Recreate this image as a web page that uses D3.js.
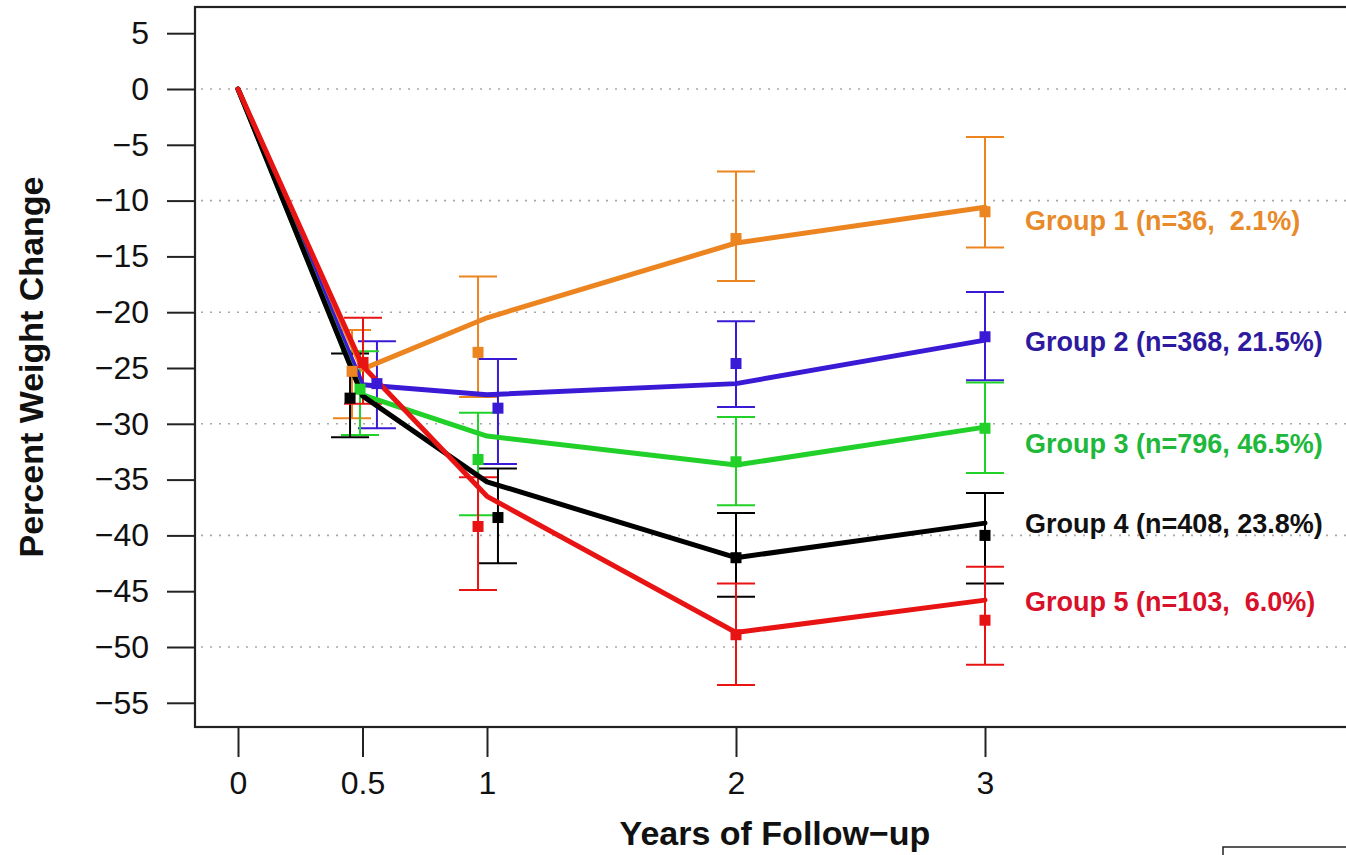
<!DOCTYPE html>
<html><head><meta charset="utf-8">
<script src="https://cdn.jsdelivr.net/npm/d3@7"></script>
<style>
html,body{margin:0;padding:0;background:#fff;}
svg{display:block;font-family:"Liberation Sans",Arial,sans-serif;}
</style></head>
<body>
<svg id="chart" width="1346" height="855"></svg>
<script>
// ---- data ----
const groupLabels = ["Group 1 (n=36,  2.1%)","Group 2 (n=368, 21.5%)","Group 3 (n=796, 46.5%)","Group 4 (n=408, 23.8%)","Group 5 (n=103,  6.0%)"];
const groupColors = ["#ec8420","#3a1ad4","#22d02a","#000000","#e81414"];
const labelColors = ["#e88a2a","#2e1a9e","#20b83a","#111111","#d8102a"];
const labelY = [-11.8, -22.7, -31.8, -39.0, -46.0];

const fitTimes = [0, 0.5, 1, 2, 3];
const fit1 = [0, -25.1, -20.5, -13.8, -10.6];
const fit2 = [0, -26.5, -27.4, -26.4, -22.5];
const fit3 = [0, -27.4, -31.1, -33.7, -30.3];
const fit4 = [0, -27.5, -35.2, -42.0, -38.9];
const fit5 = [0, -24.8, -36.5, -48.7, -45.8];

const obsT1 = [0.458, 0.964, 2, 3];
const obsT2 = [0.558, 1.044, 2, 3];
const obsT3 = [0.490, 0.964, 2, 3];
const obsT4 = [0.450, 1.044, 2, 3];
const obsT5 = [0.502, 0.964, 2, 3];

const mean1 = [-25.3, -23.6, -13.4, -11.0];
const lo1   = [-29.5, -27.6, -17.2, -14.2];
const hi1   = [-21.6, -16.8,  -7.4,  -4.3];
const mean2 = [-26.4, -28.6, -24.6, -22.2];
const lo2   = [-30.4, -33.6, -28.5, -26.1];
const hi2   = [-22.6, -24.2, -20.8, -18.2];
const mean3 = [-26.9, -33.2, -33.4, -30.4];
const lo3   = [-31.0, -38.2, -37.3, -34.4];
const hi3   = [-23.5, -29.0, -29.4, -26.3];
const mean4 = [-27.7, -38.4, -42.0, -40.0];
const lo4   = [-31.2, -42.5, -45.5, -44.3];
const hi4   = [-23.7, -34.0, -38.0, -36.2];
const mean5 = [-24.5, -39.2, -48.9, -47.6];
const lo5   = [-28.2, -44.9, -53.4, -51.6];
const hi5   = [-20.5, -34.8, -44.3, -42.8];

const xTicks = [0, 0.5, 1, 2, 3];
const xTickLabels = ["0","0.5","1","2","3"];
const yTicks = [5,0,-5,-10,-15,-20,-25,-30,-35,-40,-45,-50,-55];
const gridVals = [0,-10,-20,-30,-40,-50];

const fits = [fit1,fit2,fit3,fit4,fit5];
const obsTs = [obsT1,obsT2,obsT3,obsT4,obsT5];
const means = [mean1,mean2,mean3,mean4,mean5];
const los = [lo1,lo2,lo3,lo4,lo5];
const his = [hi1,hi2,hi3,hi4,hi5];

// ---- layout ----
const svg = d3.select("#chart");
const box = {left:195, top:7, right:1355, bottom:727};
const x = d3.scaleLinear().domain([0,3]).range([238, 985]);
const y = d3.scaleLinear().domain([-55,5]).range([702.8, 33.2]);
const fmt = v => (v < 0 ? "\u2212" + Math.abs(v) : String(v));

// grid
svg.append("g").selectAll("line").data(gridVals).join("line")
  .attr("x1", box.left + 6).attr("x2", box.right)
  .attr("y1", d => y(d)).attr("y2", d => y(d))
  .attr("stroke", "#a8a8a8").attr("stroke-width", 1.6)
  .attr("stroke-dasharray", "2 7");

// y axis
const yAxis = d3.axisLeft(y).tickValues(yTicks).tickFormat(fmt).tickSize(28).tickPadding(18);
const gy = svg.append("g").attr("transform", `translate(${box.left},0)`).call(yAxis);
gy.select(".domain").remove();
gy.selectAll(".tick line").attr("stroke", "#222").attr("stroke-width", 2);
gy.selectAll(".tick text").attr("font-size", 32).attr("fill", "#111")
  .attr("font-family", "Liberation Sans, Arial, sans-serif");

// x axis
const xAxis = d3.axisBottom(x).tickValues(xTicks).tickFormat((d,i) => xTickLabels[i]).tickSize(30).tickPadding(14);
const gx = svg.append("g").attr("transform", `translate(0,${box.bottom})`).call(xAxis);
gx.select(".domain").remove();
gx.selectAll(".tick line").attr("stroke", "#222").attr("stroke-width", 2);
gx.selectAll(".tick text").attr("font-size", 32).attr("fill", "#111")
  .attr("font-family", "Liberation Sans, Arial, sans-serif");

// box
svg.append("rect").attr("x", box.left).attr("y", box.top)
  .attr("width", box.right - box.left).attr("height", box.bottom - box.top)
  .attr("fill", "none").attr("stroke", "#222").attr("stroke-width", 2.2);

// titles
svg.append("text").attr("x", (box.left + box.right)/2).attr("y", 845)
  .attr("text-anchor", "middle").attr("font-size", 34).attr("font-weight", "bold")
  .attr("fill", "#111").text("Years of Follow\u2212up");
svg.append("text").attr("transform", `translate(43,${(box.top + box.bottom)/2}) rotate(-90)`)
  .attr("text-anchor", "middle").attr("font-size", 34).attr("font-weight", "bold")
  .attr("fill", "#111").text("Percent Weight Change");

// error bars
const cap = 19;
const eg = svg.append("g");
fits.forEach((f, g) => {
  const rows = obsTs[g].map((t, i) => ({t, m: means[g][i], lo: los[g][i], hi: his[g][i]}));
  const gg = eg.append("g").attr("stroke", groupColors[g]).attr("stroke-width", 2);
  gg.selectAll(".v").data(rows).join("line").attr("class","v")
    .attr("x1", d => x(d.t)).attr("x2", d => x(d.t))
    .attr("y1", d => y(d.lo)).attr("y2", d => y(d.hi));
  gg.selectAll(".ct").data(rows).join("line").attr("class","ct")
    .attr("x1", d => x(d.t) - cap).attr("x2", d => x(d.t) + cap)
    .attr("y1", d => y(d.hi)).attr("y2", d => y(d.hi));
  gg.selectAll(".cb").data(rows).join("line").attr("class","cb")
    .attr("x1", d => x(d.t) - cap).attr("x2", d => x(d.t) + cap)
    .attr("y1", d => y(d.lo)).attr("y2", d => y(d.lo));
});

// fitted lines
const line = d3.line().x(d => x(d[0])).y(d => y(d[1]));
[0,1,2,3,4].forEach(g => {
  svg.append("path").datum(fitTimes.map((t,i) => [t, fits[g][i]]))
    .attr("d", line).attr("fill", "none").attr("stroke", groupColors[g])
    .attr("stroke-width", 5).attr("stroke-linejoin", "round").attr("stroke-linecap", "round");
});

// points
const sq = 11;
fits.forEach((f, g) => {
  svg.append("g").selectAll("rect").data(obsTs[g].map((t,i) => ({t, m: means[g][i]}))).join("rect")
    .attr("x", d => x(d.t) - sq/2).attr("y", d => y(d.m) - sq/2)
    .attr("width", sq).attr("height", sq).attr("fill", groupColors[g]);
});

// group labels
svg.append("g").selectAll("text").data(groupLabels).join("text")
  .attr("x", 1025).attr("y", (d,i) => y(labelY[i]))
  .attr("dominant-baseline", "central")
  .attr("font-size", 27).attr("font-weight", "bold")
  .attr("fill", (d,i) => labelColors[i])
  .attr("xml:space", "preserve").style("white-space", "pre")
  .text(d => d);

// partial box at bottom right
svg.append("rect").attr("x", 1223).attr("y", 847).attr("width", 200).attr("height", 40)
  .attr("fill", "none").attr("stroke", "#222").attr("stroke-width", 1.5);
</script>
</body></html>
